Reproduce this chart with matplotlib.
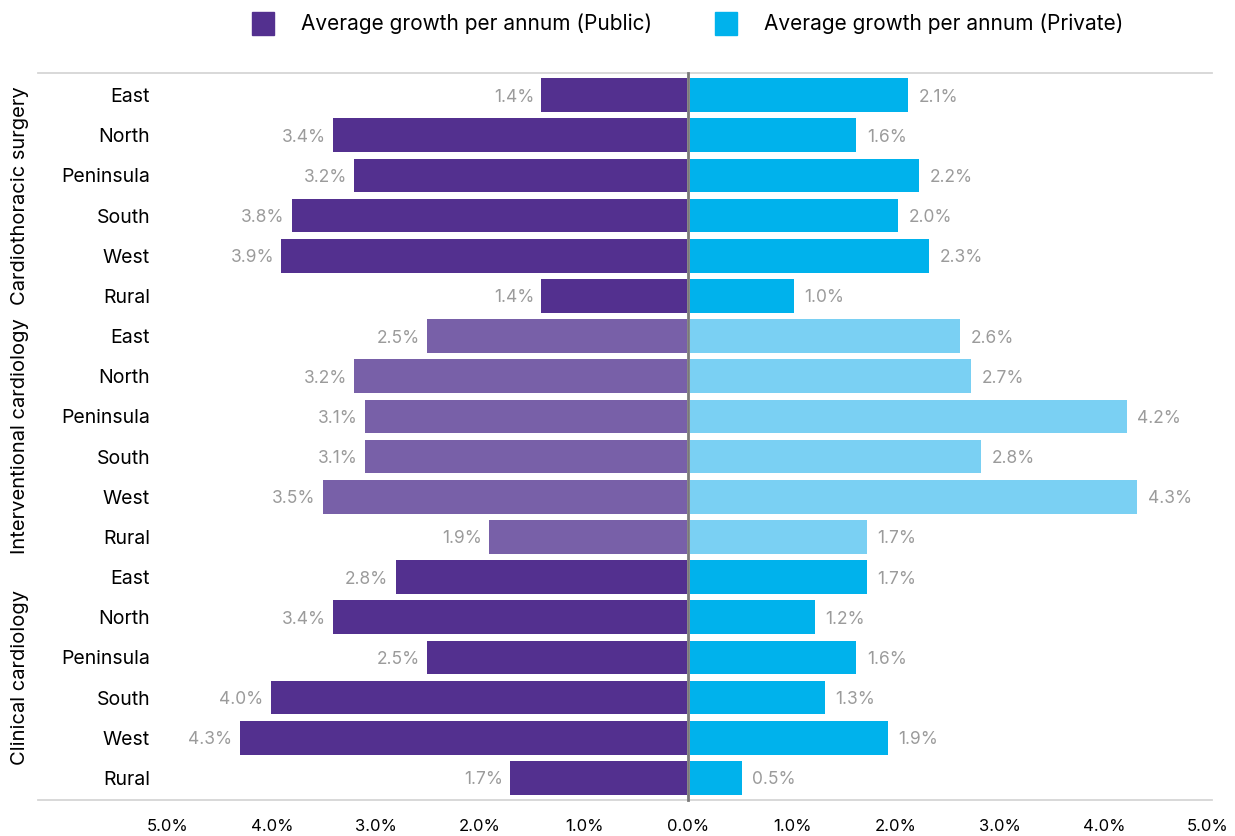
import matplotlib
matplotlib.use("Agg")
import matplotlib.pyplot as plt
import matplotlib.transforms as mtransforms
from matplotlib.patches import Patch
import numpy as np

plt.rcParams["font.family"] = ["Inter", "DejaVu Sans"]

# data
groups = ["Cardiothoracic surgery", "Interventional cardiology", "Clinical cardiology"]
regions = ["East", "North", "Peninsula", "South", "West", "Rural"]

public_cardiothoracic = [1.4, 3.4, 3.2, 3.8, 3.9, 1.4]
private_cardiothoracic = [2.1, 1.6, 2.2, 2.0, 2.3, 1.0]
public_interventional = [2.5, 3.2, 3.1, 3.1, 3.5, 1.9]
private_interventional = [2.6, 2.7, 4.2, 2.8, 4.3, 1.7]
public_clinical = [2.8, 3.4, 2.5, 4.0, 4.3, 1.7]
private_clinical = [1.7, 1.2, 1.6, 1.3, 1.9, 0.5]

tick_values = [-5, -4, -3, -2, -1, 0, 1, 2, 3, 4, 5]
tick_labels = ["5.0%", "4.0%", "3.0%", "2.0%", "1.0%", "0.0%",
               "1.0%", "2.0%", "3.0%", "4.0%", "5.0%"]

public_series = [public_cardiothoracic, public_interventional, public_clinical]
private_series = [private_cardiothoracic, private_interventional, private_clinical]

# kolory: grupa srodkowa jasniejsza
public_colors = ["#53308F", "#7860A8", "#53308F"]
private_colors = ["#00B2EC", "#7AD0F3", "#00B2EC"]
label_color = "#9B9B9B"

fig = plt.figure(figsize=(12.35, 8.36), dpi=100)
ax = fig.add_axes([168 / 1235, 1 - 800 / 836, 1040 / 1235, 727 / 836])

ylabels = []
row = 0
for g in range(len(groups)):
    pub = public_series[g]
    priv = private_series[g]
    for i in range(len(regions)):
        y = row
        ax.barh(y, -pub[i], height=0.84, color=public_colors[g], left=-0.01)
        ax.barh(y, priv[i], height=0.84, color=private_colors[g], left=0.02)
        ax.text(-pub[i] - 0.08, y + 0.05, f"{pub[i]:.1f}%", ha="right", va="center",
                fontsize=12.5, color=label_color)
        ax.text(priv[i] + 0.12, y + 0.05, f"{priv[i]:.1f}%", ha="left", va="center",
                fontsize=12.5, color=label_color)
        ylabels.append(regions[i])
        row += 1

n = len(ylabels)
ax.set_ylim(n - 0.45, -0.55)
ax.set_xlim(-5, 5)

ax.set_yticks(range(n))
ax.set_yticklabels(ylabels, fontsize=14)
ax.tick_params(axis="y", length=0, pad=13)

ax.set_xticks(tick_values)
ax.set_xticklabels(tick_labels, fontsize=12)
ax.tick_params(axis="x", length=0, pad=14)

for s in ax.spines.values():
    s.set_visible(False)

# linie gorna i dolna
for yl in [-0.55, n - 0.45]:
    ax.plot([-6.25, 5.04], [yl, yl], color="#D6D6D6", lw=1.3, clip_on=False)
ax.plot([0, 0], [-0.55, n - 0.45], color="#7A7A7A", lw=2, clip_on=False)

# etykiety grup (pionowe)
trans = mtransforms.blended_transform_factory(fig.transFigure, ax.transData)
for g, name in enumerate(groups):
    yc = g * 6 + 2.5
    ax.text(20 / 1235, yc, name, rotation=90, ha="center", va="center",
            fontsize=14.5, transform=trans, clip_on=False)

handles = [Patch(color=public_colors[0]), Patch(color=private_colors[0])]
fig.legend(handles, ["Average growth per annum (Public)", "Average growth per annum (Private)"],
           loc="upper center", bbox_to_anchor=(0.557, 1.008), ncol=2, frameon=False,
           fontsize=15, handlelength=1.05, handleheight=1.3, columnspacing=3.0,
           handletextpad=1.3)

fig.savefig("out.png", dpi=100)
